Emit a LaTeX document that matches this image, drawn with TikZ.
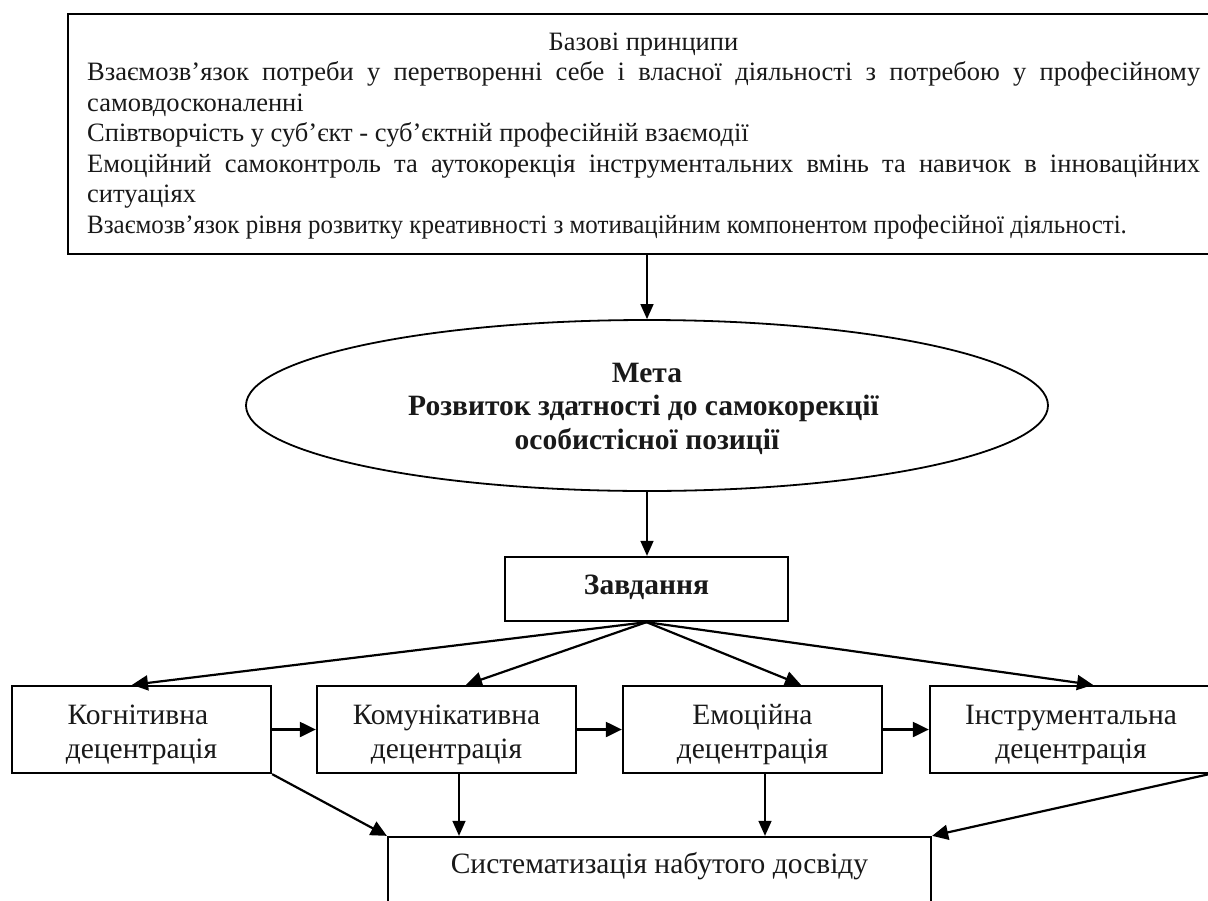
\documentclass[tikz,border=0pt]{standalone}
\usepackage{fontspec}
\setmainfont{Liberation Serif}
\usetikzlibrary{shapes.geometric,arrows.meta}
\begin{document}
\begin{tikzpicture}[x=1pt,y=-1pt,
  boxst/.style={draw, line width=2.3pt, inner sep=0pt},
  toptxt/.style={inner sep=0pt, font=\fontsize{26.5}{30}\selectfont, text=black!90},
  lowtxt/.style={inner sep=0pt, font=\fontsize{29.5}{33}\selectfont, text=black!90, anchor=base},
  boldtxt/.style={inner sep=0pt, font=\fontsize{29.5}{33}\selectfont\bfseries, text=black!90, anchor=base},
  conn/.style={line width=2.2pt, -{Triangle[length=16pt,width=15pt]}},
  thinconn/.style={line width=1.5pt, -{Triangle[length=15pt,width=13pt]}}]
\useasboundingbox (0,0) rectangle (1208,900);
\clip (0,0) rectangle (1208,900);
\fill[white] (0,0) rectangle (1208,900);

% top box
\node[boxst, minimum width=1148pt, minimum height=240pt] (base) at (642,134) {};
\node[toptxt, anchor=base] (t0) at (643.5,50) {Базові принципи};
\node[toptxt, anchor=base west] (t1) at (87,80.5) {\makebox[1113pt][s]{Взаємозв’язок потреби у перетворенні себе і власної діяльності з потребою у професійному}};
\node[toptxt, anchor=base west] (t2) at (87,111) {самовдосконаленні};
\node[toptxt, anchor=base west] (t3) at (87,141.5) {Співтворчість у суб’єкт - суб’єктній професійній взаємодії};
\node[toptxt, anchor=base west] (t4) at (87,172) {\makebox[1113pt][s]{Емоційний самоконтроль та аутокорекція інструментальних вмінь та навичок в інноваційних}};
\node[toptxt, anchor=base west] (t5) at (87,202.5) {ситуаціях};
\node[toptxt, anchor=base west] (t6) at (87,233) {\scalebox{0.942}[1]{Взаємозв’язок рівня розвитку креативності з мотиваційним компонентом професійної діяльності.}};

% goal ellipse
\node[ellipse, draw, line width=1.8pt, minimum width=802pt, minimum height=171pt, inner sep=0pt] (goal) at (647,405.5) {};
\node[boldtxt] (g1) at (647,382) {Мета};
\node[boldtxt] (g2) at (643.5,415.5) {Розвиток здатності до самокорекції};
\node[boldtxt] (g3) at (647,449) {особистісної позиції};

% tasks
\node[boxst, minimum width=283pt, minimum height=64pt] (zav) at (646.5,589) {};
\node[boldtxt] (zt) at (646.5,594) {Завдання};

% four boxes
\node[boxst, minimum width=259pt, minimum height=87pt] (b1) at (141.5,729.5) {};
\node[boxst, minimum width=259pt, minimum height=87pt] (b2) at (446.5,729.5) {};
\node[boxst, minimum width=259pt, minimum height=87pt] (b3) at (752.5,729.5) {};
\node[boxst, minimum width=280pt, minimum height=87pt] (b4) at (1070,729.5) {};
\node[lowtxt] (b1a) at (138,724) {Когнітивна};
\node[lowtxt] (b1b) at (141.5,758) {децентрація};
\node[lowtxt] (b2a) at (446.5,724) {Комунікативна};
\node[lowtxt] (b2b) at (446.5,758) {децентрація};
\node[lowtxt] (b3a) at (752.5,724) {Емоційна};
\node[lowtxt] (b3b) at (752.5,758) {децентрація};
\node[lowtxt] (b4a) at (1071,724) {Інструментальна};
\node[lowtxt] (b4b) at (1071,758) {децентрація};

% bottom box
\node[boxst, minimum width=543pt, minimum height=80pt] (sys) at (659.5,877) {};
\node[lowtxt] (st) at (659.5,873) {Систематизація набутого досвіду};

% connectors
\draw[thinconn] (base.south -| goal.north) -- (goal.north);
\draw[thinconn] (goal.south) -- (zav.north -| goal.south);
\draw[conn] (zav.south) -- ([xshift=-9.5pt]b1.north);
\draw[conn] (zav.south) -- ([xshift=19.5pt]b2.north);
\draw[conn] (zav.south) -- ([xshift=48.5pt]b3.north);
\draw[conn] (zav.south) -- ([xshift=23pt]b4.north);
\draw[conn] (b1.east) -- (b2.west);
\draw[conn] (b2.east) -- (b3.west);
\draw[conn] (b3.east) -- (b4.west);
\draw[conn] (b1.south east) -- (sys.north west);
\draw[thinconn] ([xshift=12.5pt]b2.south) -- ([xshift=12.5pt]b2.south |- sys.north);
\draw[thinconn] ([xshift=12.5pt]b3.south) -- ([xshift=12.5pt]b3.south |- sys.north);
\draw[conn] ([xshift=-2pt]b4.south east) -- (sys.north east);
\end{tikzpicture}
\end{document}
